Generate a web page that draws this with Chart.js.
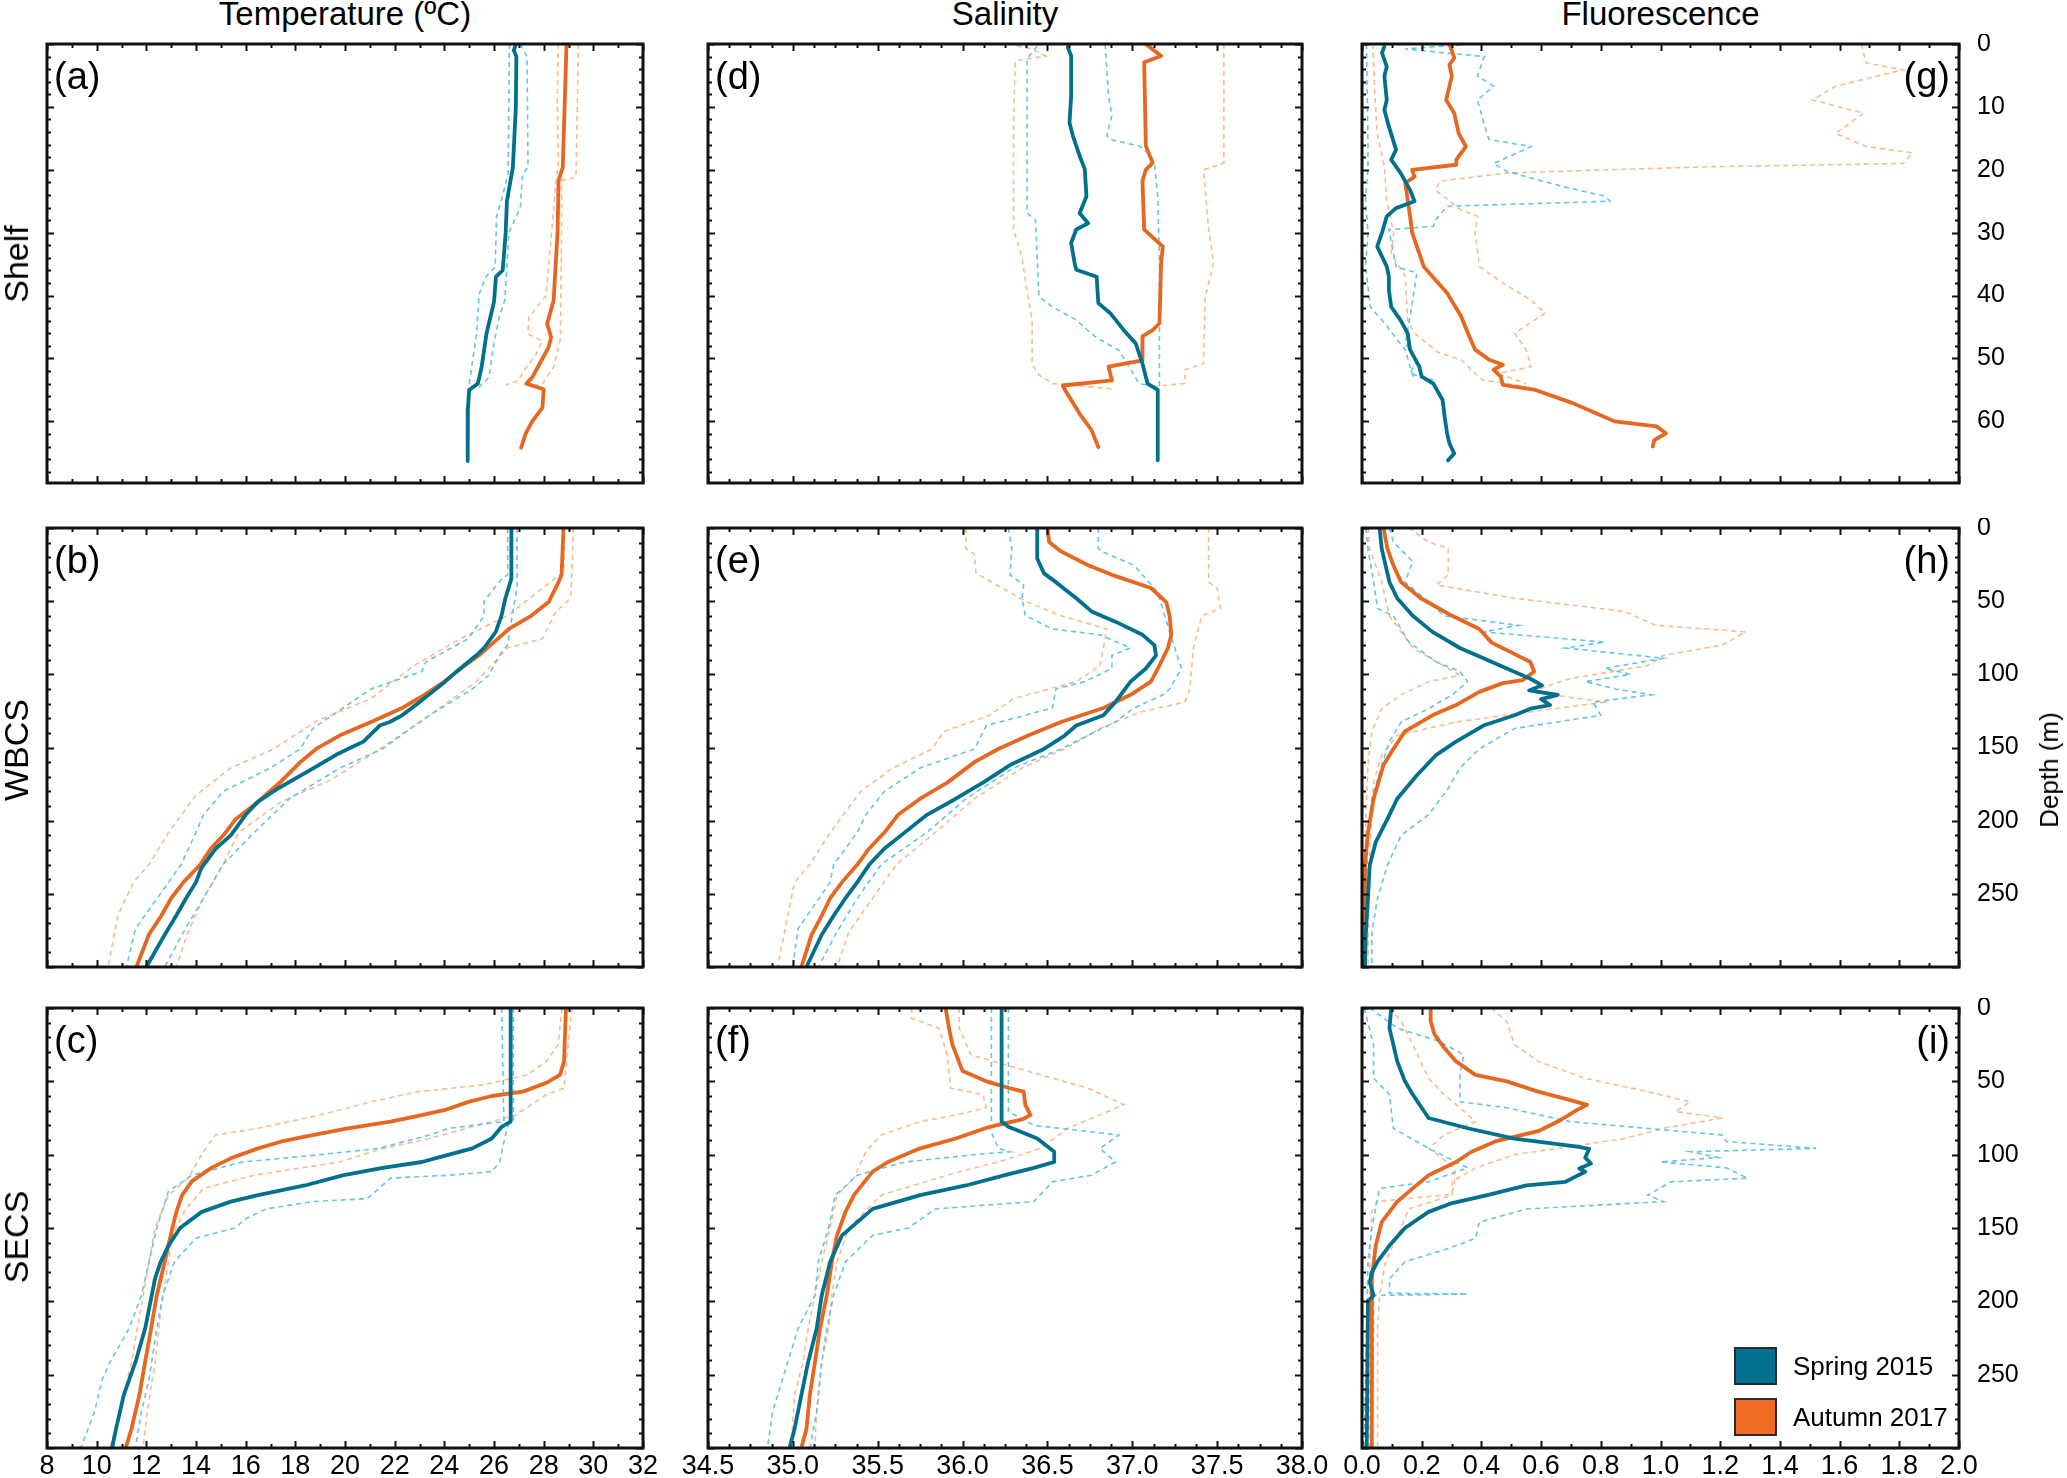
<!DOCTYPE html>
<html><head><meta charset="utf-8">
<script src="https://cdn.jsdelivr.net/npm/chart.js@4.4.1/dist/chart.umd.min.js"></script>
<style>
html,body{margin:0;padding:0;background:#fff;}
body{width:2067px;height:1478px;position:relative;overflow:hidden;font-family:"Liberation Sans",Arial,sans-serif;}
canvas{position:absolute;}
.t{position:absolute;color:#000;white-space:nowrap;line-height:1;}
.sq{position:absolute;box-sizing:border-box;border:2px solid #2a2a2a;}
</style></head><body>
<script>
// ===== DATA: each series is a list of [depth (m), value] pairs =====
// Shelf – Temperature
const shelfTempSpring = [[0,26.88],[1,26.8],[2,26.9],[10,26.88],[19.6,26.76],[25,26.52],[30,26.47],[36,26.35],[37,26.08],[41,26.0],[46,25.7],[51.4,25.5],[54,25.35],[55,25.0],[58,24.95],[66.3,24.94]];
const shelfTempSpringLo = [[0,26.62],[20.6,26.57],[24.8,26.3],[27.4,26.1],[35.4,26.05],[37.1,25.65],[39.8,25.4],[46.1,25.3],[54.1,25.0],[54.6,24.95]];
const shelfTempSpringHi = [[0,27.06],[2.1,27.33],[19.6,27.37],[20.7,27.15],[26,27.06],[30,26.6],[35.5,26.52],[40.8,26.43],[43.5,26.2],[48.8,25.95],[53,25.8],[54.1,25.5],[54.6,25.4]];
const shelfTempAutumn = [[0,28.92],[19.6,28.77],[21.7,28.6],[30,28.56],[40.8,28.4],[44.5,28.14],[46.6,28.3],[48.2,28.2],[50.4,27.9],[53,27.54],[54,27.3],[54.9,28.0],[57.8,27.95],[60,27.54],[62,27.27],[64.2,27.09]];
const shelfTempAutumnLo = [[0,28.59],[9,28.55],[19.6,28.59],[21.7,28.5],[40,28.1],[43.5,27.4],[46.1,27.37],[47.2,27.95],[49.3,27.7],[51.4,27.3],[53.5,26.98],[54.2,26.47]];
const shelfTempAutumnHi = [[0,29.4],[21.2,29.3],[21.7,28.72],[30,28.72],[47,28.67],[51.4,28.4],[54,27.95],[54.3,27.6]];
// Shelf – Salinity
const shelfSalSpring = [[0.5,36.62],[1.9,36.64],[8.2,36.64],[12.5,36.63],[14.6,36.65],[17.8,36.69],[19.9,36.72],[24.2,36.73],[26.9,36.69],[28.5,36.74],[29.5,36.67],[31.6,36.64],[34.8,36.66],[35.9,36.67],[37,36.79],[41.2,36.8],[42.8,36.87],[45.5,36.95],[47.6,37.02],[50.8,37.06],[54,37.09],[55,37.15],[66.2,37.15]];
const shelfSalSpringLo = [[0.3,36.44],[1.3,36.41],[2.4,36.38],[26.9,36.38],[28,36.43],[40.2,36.45],[41.8,36.53],[43.9,36.67],[46.5,36.78],[48.7,36.92],[50.8,36.97],[54,37.04],[54.5,37.15]];
const shelfSalSpringHi = [[0,36.84],[8.2,36.86],[11.4,36.88],[14.6,36.85],[15.2,36.87],[16.2,37.04],[17.8,37.11],[18.9,37.13],[24.2,37.15],[34.8,37.16],[54.5,37.16]];
const shelfSalAutumn = [[0,37.08],[1.9,37.17],[2.9,37.07],[16.2,37.08],[18.9,37.12],[20,37.08],[21.8,37.06],[29.5,37.07],[32.2,37.18],[34.8,37.17],[44.4,37.16],[45.5,37.12],[46.5,37.06],[50.3,37.06],[51.3,36.86],[53.5,36.88],[54.3,36.59],[55.3,36.61],[58.8,36.69],[61.4,36.76],[64.1,36.8]];
const shelfSalAutumnLo = [[0.3,36.32],[0.8,36.41],[1.9,36.49],[2.7,36.31],[13.6,36.3],[29.5,36.3],[33.8,36.35],[37.5,36.37],[43.9,36.41],[50.8,36.41],[52.4,36.44],[54,36.53],[54.8,36.88]];
const shelfSalAutumnHi = [[0,37.54],[18.9,37.54],[20,37.42],[29.5,37.45],[34.8,37.48],[40.2,37.43],[50.8,37.42],[51.8,37.31],[54,37.31],[54.5,37.1]];
// Shelf – Fluorescence
const shelfFluoSpring = [[0.4,0.075],[1.4,0.067],[3.6,0.083],[5.1,0.075],[8.9,0.083],[10.5,0.075],[13.1,0.09],[16.8,0.114],[18.4,0.098],[20.5,0.129],[23.2,0.161],[25,0.176],[26.1,0.114],[27.4,0.083],[30,0.067],[32.2,0.051],[35.4,0.083],[37,0.09],[39.1,0.09],[41.8,0.098],[43.9,0.129],[46,0.153],[48.6,0.161],[51.3,0.192],[52.9,0.2],[54,0.239],[56.6,0.27],[59.3,0.277],[61.9,0.285],[63.5,0.293],[65.1,0.309],[66.2,0.288]];
const shelfFluoSpringLo = [[0,0.015],[15.8,0.02],[19.5,0.02],[24.8,0.012],[30,0.02],[35.4,0.012],[41.8,0.028],[43.9,0.067],[48.6,0.145],[51.3,0.161],[53.4,0.176]];
const shelfFluoSpringHi = [[0,0.363],[0.8,0.145],[2,0.41],[5.1,0.387],[6.7,0.441],[8.9,0.387],[14.2,0.418],[15.2,0.426],[16.3,0.566],[19,0.441],[20.3,0.488],[22.7,0.675],[24.2,0.815],[25,0.831],[25.8,0.285],[28,0.246],[29,0.239],[29.5,0.09],[35.4,0.114],[36.4,0.184],[43.3,0.161],[47.6,0.145],[50.2,0.184],[52.4,0.161],[53.4,0.239]];
const shelfFluoAutumn = [[0,0.293],[2.2,0.309],[3.3,0.293],[5.1,0.301],[8.9,0.282],[11,0.309],[14.2,0.324],[16.3,0.348],[18.4,0.316],[19.2,0.316],[20,0.168],[21.1,0.176],[22.1,0.145],[27.4,0.161],[30,0.168],[35.4,0.207],[39.6,0.285],[43.3,0.332],[46,0.355],[48.6,0.379],[50.2,0.426],[51,0.472],[51.8,0.441],[52.9,0.465],[54.2,0.472],[55,0.581],[57.1,0.706],[58.7,0.784],[60,0.846],[60.8,0.987],[61.9,1.018],[63,0.979],[64,0.974]];
const shelfFluoAutumnLo = [[0,0.036],[8.9,0.044],[14.2,0.051],[19.5,0.075],[24.8,0.083],[30,0.106],[33.3,0.098],[37,0.145],[43.9,0.153],[46,0.176],[49,0.254],[50.2,0.332],[53.4,0.402],[54.5,0.55]];
const shelfFluoAutumnHi = [[0,1.673],[3,1.688],[4.1,1.813],[6.7,1.587],[8.9,1.509],[11,1.68],[14.2,1.587],[16.3,1.688],[17.3,1.844],[19,1.813],[19.5,1.174],[20.5,0.488],[21.8,0.262],[23.2,0.246],[26.4,0.332],[27.4,0.387],[30,0.379],[35.4,0.394],[38,0.472],[40.7,0.566],[42.8,0.613],[46,0.511],[48.6,0.55],[51.3,0.566],[52.4,0.457],[54,0.55]];

// WBCS – Temperature
const wbcsTempSpring = [[0,26.7],[34.6,26.7],[48,26.46],[60,26.3],[71,26.07],[82,25.6],[87,25.29],[98,24.5],[105,24.03],[119,23.0],[128,22.3],[132.6,21.8],[135,21.4],[146,20.74],[155,19.64],[164.5,18.7],[178,17.3],[187,16.5],[196,16.0],[210,15.4],[219,14.8],[233,14.2],[242,14.0],[253,13.6],[265,13.2],[278,12.74],[300,12.0]];
const wbcsTempSpringLo = [[0,26.55],[32,26.55],[35,26.3],[50,25.6],[60,25.6],[75.6,24.97],[91.6,23.25],[98,23.1],[110,21.05],[137,18.7],[151,18.2],[164,17.0],[180,15.1],[196,14.3],[208,14.0],[230,13.4],[242,12.9],[274,11.56],[300,11.2]];
const wbcsTempSpringHi = [[0,26.93],[40,26.93],[80,26.54],[87,26.23],[101,25.76],[110,25.13],[128,23.4],[151,21.5],[164,19.8],[185,17.76],[208,16.35],[230,15.09],[253,14.3],[276,13.5],[300,12.74]];
const wbcsTempAutumn = [[0,28.8],[32,28.72],[37,28.6],[50.6,28.2],[60,27.5],[69,26.6],[78,26.0],[87,25.4],[96,24.66],[105,24.0],[114,23.2],[123,22.3],[132.6,21.05],[141.7,19.8],[150.8,18.85],[160,18.2],[173.6,17.4],[187,16.5],[199,15.6],[210,15.1],[219,14.6],[230.5,14.15],[242,13.5],[253,13.0],[265,12.6],[278,12.1],[300,11.6]];
const wbcsTempAutumnLo = [[0,28.82],[30,28.82],[39,28.11],[60,26.54],[75.6,24.66],[94,22.78],[116.6,21.05],[132,18.85],[151,17.13],[164,15.4],[182.7,13.99],[208,12.9],[230,12.11],[242,11.48],[265,10.85],[300,10.46]];
const wbcsTempAutumnHi = [[0,29.2],[45,29.1],[50,28.97],[57,28.5],[75.6,27.95],[82,26.54],[105,25.29],[128,23.4],[155,21.05],[173,19.33],[187,17.44],[208,15.72],[230,15.09],[253,14.3],[276,13.68],[300,13.2]];
// WBCS – Salinity
const wbcsSalSpring = [[0,36.44],[21,36.44],[31,36.48],[37,36.55],[48,36.67],[57,36.76],[64,36.9],[73,37.06],[80,37.13],[87,37.14],[96,37.08],[105,36.99],[119,36.9],[128,36.83],[135,36.67],[142,36.6],[151,36.48],[162,36.28],[174,36.12],[185,35.96],[196,35.79],[208,35.66],[219,35.54],[230,35.45],[242,35.38],[253,35.31],[265,35.24],[278,35.17],[300,35.08]];
const wbcsSalSpringLo = [[0,36.27],[14,36.29],[32,36.28],[39,36.36],[48,36.35],[60,36.37],[69,36.53],[73,36.81],[82,36.99],[87,36.88],[96,36.88],[105,36.72],[110,36.55],[123,36.53],[135,36.14],[151,36.07],[164,35.75],[180,35.54],[196,35.43],[208,35.38],[230,35.24],[242,35.22],[274,35.03],[300,35.0]];
const wbcsSalSpringHi = [[0,36.8],[14,36.8],[16,36.82],[25.5,37.01],[32,37.06],[44,37.15],[71,37.22],[96,37.29],[110,37.22],[114,37.18],[123,37.01],[132.6,36.9],[141.7,36.74],[151,36.58],[164,36.3],[185,36.02],[208,35.79],[230,35.52],[253,35.38],[276,35.26],[300,35.15]];
const wbcsSalAutumn = [[0,36.5],[9.6,36.51],[16,36.58],[25.5,36.74],[32,36.88],[41,37.11],[50.6,37.2],[60,37.22],[73,37.23],[82,37.21],[94,37.16],[105,37.11],[114,36.99],[123,36.83],[132.6,36.58],[141.7,36.39],[151,36.21],[160,36.07],[174,35.91],[185,35.75],[196,35.62],[208,35.54],[219,35.45],[230,35.38],[242,35.29],[253,35.22],[265,35.17],[278,35.11],[300,35.05]];
const wbcsSalAutumnLo = [[0,36.02],[14,36.02],[18,36.07],[31,36.08],[50,36.37],[60,36.58],[69,36.85],[82,36.83],[94,36.81],[105,36.67],[116.6,36.3],[128,36.16],[139,35.89],[151,35.82],[164,35.59],[180,35.4],[208,35.22],[230,35.1],[242,35.01],[265,34.97],[300,34.91]];
const wbcsSalAutumnHi = [[0,37.45],[37,37.45],[41,37.5],[55,37.52],[60,37.41],[73,37.38],[82,37.36],[110,37.34],[119,37.31],[126,37.04],[137,36.81],[151,36.6],[164,36.35],[185,36.07],[208,35.84],[230,35.61],[253,35.47],[276,35.33],[300,35.26]];
// WBCS – Fluorescence
const wbcsFluoSpring = [[0,0.059],[14,0.066],[25.5,0.079],[37,0.092],[48,0.118],[60,0.17],[71,0.236],[82,0.328],[89,0.407],[96,0.485],[103,0.564],[107.5,0.603],[111,0.56],[114,0.656],[117,0.6],[121,0.63],[123.5,0.564],[128,0.511],[135,0.407],[146,0.315],[155,0.249],[169,0.184],[185,0.118],[196,0.092],[214.6,0.046],[230.5,0.026],[253,0.02],[276,0.013],[300,0.01]];
const wbcsFluoSpringLo = [[0,0.013],[14,0.02],[37,0.039],[55,0.052],[60,0.105],[78,0.157],[91.6,0.249],[98,0.328],[105,0.354],[114,0.302],[123.5,0.223],[132.6,0.131],[146,0.092],[162,0.066],[185,0.033],[208,0.02],[300,0.007]];
const wbcsFluoSpringHi = [[0,0.092],[9.6,0.105],[23,0.17],[37,0.144],[46,0.197],[60,0.275],[66.5,0.525],[71,0.407],[78,0.813],[82,0.682],[89,1.01],[96,0.813],[100,0.9],[105,0.748],[110,0.85],[114,0.97],[119,0.774],[128,0.8],[137,0.511],[151,0.393],[164,0.328],[178,0.289],[196,0.223],[210,0.131],[230.5,0.085],[253,0.052],[276,0.033],[300,0.033]];
const wbcsFluoAutumn = [[0,0.072],[14,0.085],[25.5,0.105],[37,0.131],[48,0.197],[60,0.302],[69,0.393],[78,0.433],[80,0.45],[85,0.5],[91.6,0.564],[98,0.577],[104,0.538],[106,0.472],[112,0.393],[121,0.315],[128,0.236],[139,0.144],[151,0.105],[162,0.072],[185,0.039],[208,0.02],[230.5,0.01],[300,0.01]];
const wbcsFluoAutumnLo = [[0,0.02],[14,0.026],[37,0.066],[60,0.092],[82,0.17],[96,0.289],[100.7,0.328],[105,0.223],[114,0.131],[123.5,0.066],[139,0.033],[162,0.02],[196,0.013],[300,0.007]];
const wbcsFluoAutumnHi = [[0,0.157],[9.6,0.223],[14,0.289],[32,0.289],[39,0.249],[48,0.511],[57,0.879],[66.5,0.984],[71,1.285],[80,1.207],[87,1.01],[94,0.957],[103,0.695],[112,0.564],[119,0.813],[126,0.551],[132.6,0.315],[141.7,0.118],[155,0.066],[173.6,0.039],[196,0.033],[219,0.026],[300,0.02]];

// SECS – Temperature
const secsTempSpring = [[0,26.67],[77.4,26.67],[81,26.31],[89,25.91],[95.7,25.13],[100,24.19],[105,23.09],[109,21.52],[114,19.95],[121,18.38],[127.6,16.5],[132,15.4],[139,14.23],[150,13.36],[162,12.89],[173,12.58],[184.5,12.35],[218.7,11.95],[241.5,11.56],[264,11.09],[287,10.78],[300,10.62]];
const secsTempSpringLo = [[0,26.31],[77.4,26.4],[82,24.19],[86.6,23.4],[95.7,21.36],[100,19.0],[105,15.87],[114,13.84],[125,12.89],[150,12.42],[173,12.11],[196,11.8],[218.7,11.3],[241.5,10.54],[253,10.23],[275.6,9.91],[300,9.36]];
const secsTempSpringHi = [[0,26.78],[76,26.78],[77.4,26.62],[86.6,26.46],[105,26.23],[111.6,25.91],[114,24.19],[116,21.84],[130,20.89],[132,18.7],[137,16.82],[143.5,16.03],[150,15.56],[157,13.99],[173,13.13],[196,12.66],[218.7,12.42],[253,12.11],[275.6,11.8],[300,11.56]];
const secsTempAutumn = [[0,28.9],[36.4,28.82],[45.6,28.66],[51,28.11],[57,27.17],[60,25.91],[64,24.97],[69.5,24.03],[73,23.09],[77.4,21.84],[82,20.11],[86.6,18.7],[91,17.44],[95.7,16.5],[102.5,15.4],[109,14.62],[118,13.84],[127.6,13.44],[139,13.21],[150,13.05],[173,12.74],[196,12.42],[218.7,12.19],[241.5,11.95],[264,11.72],[287,11.4],[300,11.17]];
const secsTempAutumnLo = [[0,28.74],[25,28.58],[36.4,28.11],[45.6,27.33],[52.4,25.6],[57,22.93],[64,21.05],[73,19.0],[82,16.5],[86.6,14.78],[98,14.3],[116,13.68],[127.6,12.89],[150,12.35],[173,12.11],[196,11.87],[241.5,11.4],[264,11.09],[300,10.54]];
const secsTempAutumnHi = [[0,29.13],[54.7,28.82],[59,28.11],[73,26.86],[89,23.4],[95.7,21.52],[105,19.8],[114,16.35],[123,14.3],[139,13.52],[155,13.05],[173,12.89],[207,12.58],[241.5,12.35],[275.6,12.03],[300,11.87]];
// SECS – Salinity
const secsSalSpring = [[0,36.23],[77.4,36.23],[81,36.27],[89,36.44],[98,36.54],[105,36.54],[109,36.42],[114,36.25],[121,36.02],[127.6,35.75],[137,35.47],[146,35.38],[155,35.29],[173,35.22],[196,35.17],[218.7,35.14],[241.5,35.09],[264,35.05],[287,35.01],[300,34.98]];
const secsSalSpringLo = [[0,36.17],[77.4,36.17],[82,36.16],[95.7,36.21],[98,36.28],[100,36.07],[105,35.66],[114,35.38],[127.6,35.25],[150,35.21],[173,35.15],[196,35.13],[218.7,35.03],[241.5,34.97],[275.6,34.88],[300,34.85]];
const secsSalSpringHi = [[0,36.27],[70.6,36.27],[80,36.42],[86.6,36.92],[95.7,36.81],[105,36.9],[114,36.76],[118.5,36.53],[132,36.42],[137,35.84],[150,35.68],[155,35.47],[173,35.31],[196,35.24],[218.7,35.2],[241.5,35.17],[275.6,35.14],[300,35.1]];
const secsSalAutumn = [[0,35.9],[13.7,35.92],[25,35.94],[43,36.0],[50,36.14],[54.7,36.28],[57,36.36],[66,36.37],[73,36.4],[76,36.35],[81,36.16],[89,35.96],[95.7,35.75],[105,35.56],[111.6,35.47],[127.6,35.36],[139,35.31],[155,35.26],[173,35.23],[196,35.2],[218.7,35.16],[241.5,35.13],[264,35.1],[287,35.08],[300,35.05]];
const secsSalAutumnLo = [[0,35.7],[7,35.7],[13.7,35.86],[32,35.91],[54.7,35.93],[59,36.12],[68,36.14],[73,35.96],[77.4,35.75],[86.6,35.52],[98,35.43],[116,35.36],[127.6,35.26],[150,35.22],[173,35.17],[196,35.13],[218.7,35.09],[241.5,35.06],[264,35.01],[300,34.99]];
const secsSalAutumnHi = [[0,35.98],[13.7,35.98],[32,36.05],[45.6,36.46],[54.7,36.74],[66,36.95],[82,36.62],[95.7,36.46],[105,36.21],[111.6,35.98],[127.6,35.52],[150,35.33],[173,35.26],[196,35.23],[218.7,35.21],[241.5,35.17],[275.6,35.14],[300,35.13]];
// SECS – Fluorescence
const secsFluoSpring = [[0,0.098],[13.7,0.092],[36.4,0.118],[50,0.144],[59,0.17],[75,0.223],[82,0.354],[89,0.51],[94.5,0.721],[96,0.761],[102,0.748],[106,0.767],[109.5,0.728],[111.6,0.748],[115,0.715],[118.5,0.682],[121,0.551],[127.6,0.42],[133,0.302],[139,0.223],[150,0.144],[162,0.092],[173,0.052],[180,0.033],[187,0.026],[196,0.039],[200,0.02],[300,0.016]];
const secsFluoSpringLo = [[0,0.007],[25,0.039],[48,0.039],[59,0.092],[82,0.105],[95.7,0.223],[109,0.354],[118.5,0.223],[123,0.059],[150,0.033],[173,0.02],[300,0.007]];
const secsFluoSpringHi = [[0,0.026],[13.7,0.118],[23,0.262],[32,0.341],[45.6,0.328],[64,0.328],[68,0.485],[77.4,0.695],[86.6,1.207],[91,1.22],[95.7,1.521],[98,1.1],[102,1.193],[105,1.0],[109,1.22],[116,1.292],[118.5,1.036],[127.6,0.957],[132,1.01],[137,0.551],[146,0.393],[157,0.38],[164,0.289],[173,0.144],[184.5,0.092],[194.5,0.092],[195,0.354],[196,0.039],[218.7,0.039],[300,0.033]];
const secsFluoAutumn = [[0,0.23],[9,0.23],[18,0.243],[27,0.275],[36.4,0.315],[45.6,0.38],[50,0.485],[57,0.59],[62.6,0.695],[66,0.754],[69.5,0.721],[77.4,0.656],[84,0.59],[91,0.446],[98,0.367],[105,0.315],[114,0.223],[123,0.17],[132,0.118],[146,0.066],[162,0.046],[184.5,0.033],[300,0.033]];
const secsFluoAutumnLo = [[0,0.092],[9,0.131],[25,0.17],[48,0.223],[59,0.275],[68,0.328],[77.4,0.38],[86.6,0.275],[95.7,0.223],[109,0.31],[118.5,0.31],[127,0.3],[132,0.05],[139,0.033],[173,0.026],[300,0.026]];
const secsFluoAutumnHi = [[0,0.433],[9,0.485],[25,0.511],[36.4,0.59],[48,0.748],[57,0.957],[64,1.1],[70.6,1.05],[75,1.207],[82,1.01],[89,0.879],[100,0.511],[109,0.38],[118.5,0.302],[127.6,0.302],[137,0.157],[150,0.131],[173,0.079],[196,0.059],[218.7,0.052],[300,0.052]];

// Text
const colTitles = ['Temperature (ºC)', 'Salinity', 'Fluorescence'];
const rowTitles = ['Shelf', 'WBCS', 'SECS'];
const panelLetters = [['(a)','(d)','(g)'],['(b)','(e)','(h)'],['(c)','(f)','(i)']];
const seriesNames = ['Spring 2015', 'Autumn 2017'];

const panelData = [
  [[shelfTempSpring,shelfTempSpringLo,shelfTempSpringHi,shelfTempAutumn,shelfTempAutumnLo,shelfTempAutumnHi],
   [shelfSalSpring,shelfSalSpringLo,shelfSalSpringHi,shelfSalAutumn,shelfSalAutumnLo,shelfSalAutumnHi],
   [shelfFluoSpring,shelfFluoSpringLo,shelfFluoSpringHi,shelfFluoAutumn,shelfFluoAutumnLo,shelfFluoAutumnHi]],
  [[wbcsTempSpring,wbcsTempSpringLo,wbcsTempSpringHi,wbcsTempAutumn,wbcsTempAutumnLo,wbcsTempAutumnHi],
   [wbcsSalSpring,wbcsSalSpringLo,wbcsSalSpringHi,wbcsSalAutumn,wbcsSalAutumnLo,wbcsSalAutumnHi],
   [wbcsFluoSpring,wbcsFluoSpringLo,wbcsFluoSpringHi,wbcsFluoAutumn,wbcsFluoAutumnLo,wbcsFluoAutumnHi]],
  [[secsTempSpring,secsTempSpringLo,secsTempSpringHi,secsTempAutumn,secsTempAutumnLo,secsTempAutumnHi],
   [secsSalSpring,secsSalSpringLo,secsSalSpringHi,secsSalAutumn,secsSalAutumnLo,secsSalAutumnHi],
   [secsFluoSpring,secsFluoSpringLo,secsFluoSpringHi,secsFluoAutumn,secsFluoAutumnLo,secsFluoAutumnHi]]
];

// ===== LAYOUT / STYLE =====
const FONT = '"Liberation Sans", Arial, sans-serif';
const cols = [
  {min:8, max:32, step:2, minor:1, dec:0, left:47, width:596},
  {min:34.5, max:38, step:0.5, minor:0.125, dec:1, left:708, width:594},
  {min:0, max:2, step:0.2, minor:0.1, dec:1, left:1362, width:597}
];
const rows = [
  {max:69.8, step:10, minor:2, top:44, height:439},
  {max:300, step:50, minor:10, top:528, height:439},
  {max:300, step:50, minor:10, top:1008, height:440}
];
const C_SPRING = '#00708d', C_AUTUMN = '#e6671f', C_SPRING_L = '#62c5e6', C_AUTUMN_L = '#fdb98b';
const PADL = 40, PADT = 10, AXR = 100, AXB = 40;

const framePlugin = {
  id: 'frame',
  afterDraw(chart, args, o) {
    const {ctx, chartArea: a} = chart;
    const x = chart.scales.x, y = chart.scales.y;
    ctx.save();
    ctx.strokeStyle = '#111';
    ctx.lineWidth = 2;
    ctx.beginPath();
    const nx = Math.round((x.max - x.min) / o.xMinor);
    for (let i = 0; i <= nx; i++) {
      const v = x.min + i * o.xMinor;
      const r = (v - x.min) / o.xMajor;
      const len = Math.abs(r - Math.round(r)) < 1e-6 ? 7 : 4;
      const px = Math.round(x.getPixelForValue(v)) + 0.5;
      ctx.moveTo(px, a.bottom); ctx.lineTo(px, a.bottom - len);
      ctx.moveTo(px, a.top); ctx.lineTo(px, a.top + len);
    }
    const ny = Math.floor(y.max / o.yMinor + 1e-6);
    for (let i = 0; i <= ny; i++) {
      const v = i * o.yMinor;
      const r = v / o.yMajor;
      const len = Math.abs(r - Math.round(r)) < 1e-6 ? 7 : 4;
      const py = Math.round(y.getPixelForValue(v)) + 0.5;
      ctx.moveTo(a.left, py); ctx.lineTo(a.left + len, py);
      ctx.moveTo(a.right, py); ctx.lineTo(a.right - len, py);
    }
    ctx.stroke();
    ctx.lineWidth = 3;
    ctx.strokeRect(a.left, a.top, a.right - a.left, a.bottom - a.top);
    ctx.restore();
  }
};

function addText(txt, css) {
  const d = document.createElement('div');
  d.className = 't';
  d.textContent = txt;
  Object.assign(d.style, css);
  document.body.appendChild(d);
  return d;
}

function toPts(arr) { return arr.map(p => ({x: p[1], y: p[0]})); }

rows.forEach((row, ri) => {
  cols.forEach((col, ci) => {
    const cv = document.createElement('canvas');
    const W = col.width + PADL + AXR, H = row.height + PADT + AXB;
    cv.width = W; cv.height = H;
    cv.style.width = W + 'px'; cv.style.height = H + 'px';
    cv.style.left = (col.left - PADL) + 'px';
    cv.style.top = (row.top - PADT) + 'px';
    document.body.appendChild(cv);
    const s = panelData[ri][ci];
    const dash = (d, c) => ({data: toPts(d), borderColor: c, borderWidth: 1.6, borderDash: [5, 4], pointRadius: 0, showLine: true, order: 2});
    const solid = (d, c, o) => ({data: toPts(d), borderColor: c, borderWidth: 3.8, pointRadius: 0, showLine: true, order: o, borderJoinStyle: 'round', borderCapStyle: 'round'});
    const datasets = [
      dash(s[1], C_SPRING_L), dash(s[2], C_SPRING_L),
      dash(s[4], C_AUTUMN_L), dash(s[5], C_AUTUMN_L),
      solid(s[3], C_AUTUMN, 1), solid(s[0], C_SPRING, 0)
    ];
    new Chart(cv, {
      type: 'scatter',
      data: {datasets},
      plugins: [framePlugin],
      options: {
        responsive: false, animation: false, devicePixelRatio: 1,
        layout: {padding: {left: PADL, top: PADT, right: 0, bottom: 0}},
        elements: {line: {tension: 0}},
        plugins: {
          legend: {display: false}, tooltip: {enabled: false},
          frame: {xMinor: col.minor, xMajor: col.step, yMinor: row.minor, yMajor: row.step}
        },
        scales: {
          x: {
            type: 'linear', position: 'bottom', min: col.min, max: col.max,
            grid: {display: false, drawTicks: false}, border: {display: false},
            ticks: {display: ri === 2, stepSize: col.step, autoSkip: false, maxRotation: 0, padding: 2,
              color: '#000', font: {family: FONT, size: 27},
              callback: v => Number(v).toFixed(col.dec)},
            afterFit: sc => { sc.height = AXB; sc.paddingLeft = 0; sc.paddingRight = 0; }
          },
          y: {
            type: 'linear', position: 'right', reverse: true, min: 0, max: row.max,
            grid: {display: false, drawTicks: false}, border: {display: false},
            ticks: {display: ci === 2, stepSize: row.step, autoSkip: false, padding: 18, includeBounds: false,
              color: '#000', font: {family: FONT, size: 25}, callback: v => String(Math.round(v))},
            afterBuildTicks: sc => { sc.ticks = sc.ticks.filter(t => t.value < row.max - 1 && t.value >= 0); },
            afterFit: sc => { sc.width = AXR; sc.paddingTop = 0; sc.paddingBottom = 0; }
          }
        }
      }
    });
    const lf = 38;
    const letter = panelLetters[ri][ci];
    const ltop = row.top + 45 - 0.8465 * lf;
    if (ci === 2) {
      addText(letter, {fontSize: lf + 'px', top: ltop + 'px', right: (2067 - (col.left + col.width - 9)) + 'px'});
    } else {
      addText(letter, {fontSize: lf + 'px', top: ltop + 'px', left: (col.left + 7) + 'px'});
    }
  });
});

// column titles
const tf = 33;
cols.forEach((col, ci) => {
  addText(colTitles[ci], {fontSize: tf + 'px', top: (25 - 0.8465 * tf) + 'px',
    left: (col.left + col.width / 2 - 300) + 'px', width: '600px', textAlign: 'center'});
});
// row titles (rotated)
const rf = 34;
const rowCenters = [264, 750, 1237];
rowTitles.forEach((t, ri) => {
  const cx = 28 - 0.3465 * rf;
  addText(t, {fontSize: rf + 'px', left: cx + 'px', top: rowCenters[ri] + 'px',
    transform: 'translate(-50%,-50%) rotate(-90deg)'});
});
// depth label
addText('Depth (m)', {fontSize: '26px', left: (2058 - 0.3465 * 26) + 'px', top: '770px',
  transform: 'translate(-50%,-50%) rotate(-90deg)'});
// legend
const legendItems = [[seriesNames[0], '#00728f', 1347], [seriesNames[1], '#ef6b24', 1398]];
legendItems.forEach(([name, color, top]) => {
  const sq = document.createElement('div');
  sq.className = 'sq';
  Object.assign(sq.style, {left: '1734px', top: top + 'px', width: '43px', height: '38px', background: color});
  document.body.appendChild(sq);
  addText(name, {fontSize: '26px', left: '1793px', top: top + 'px', lineHeight: '38px'});
});
</script>
</body></html>
